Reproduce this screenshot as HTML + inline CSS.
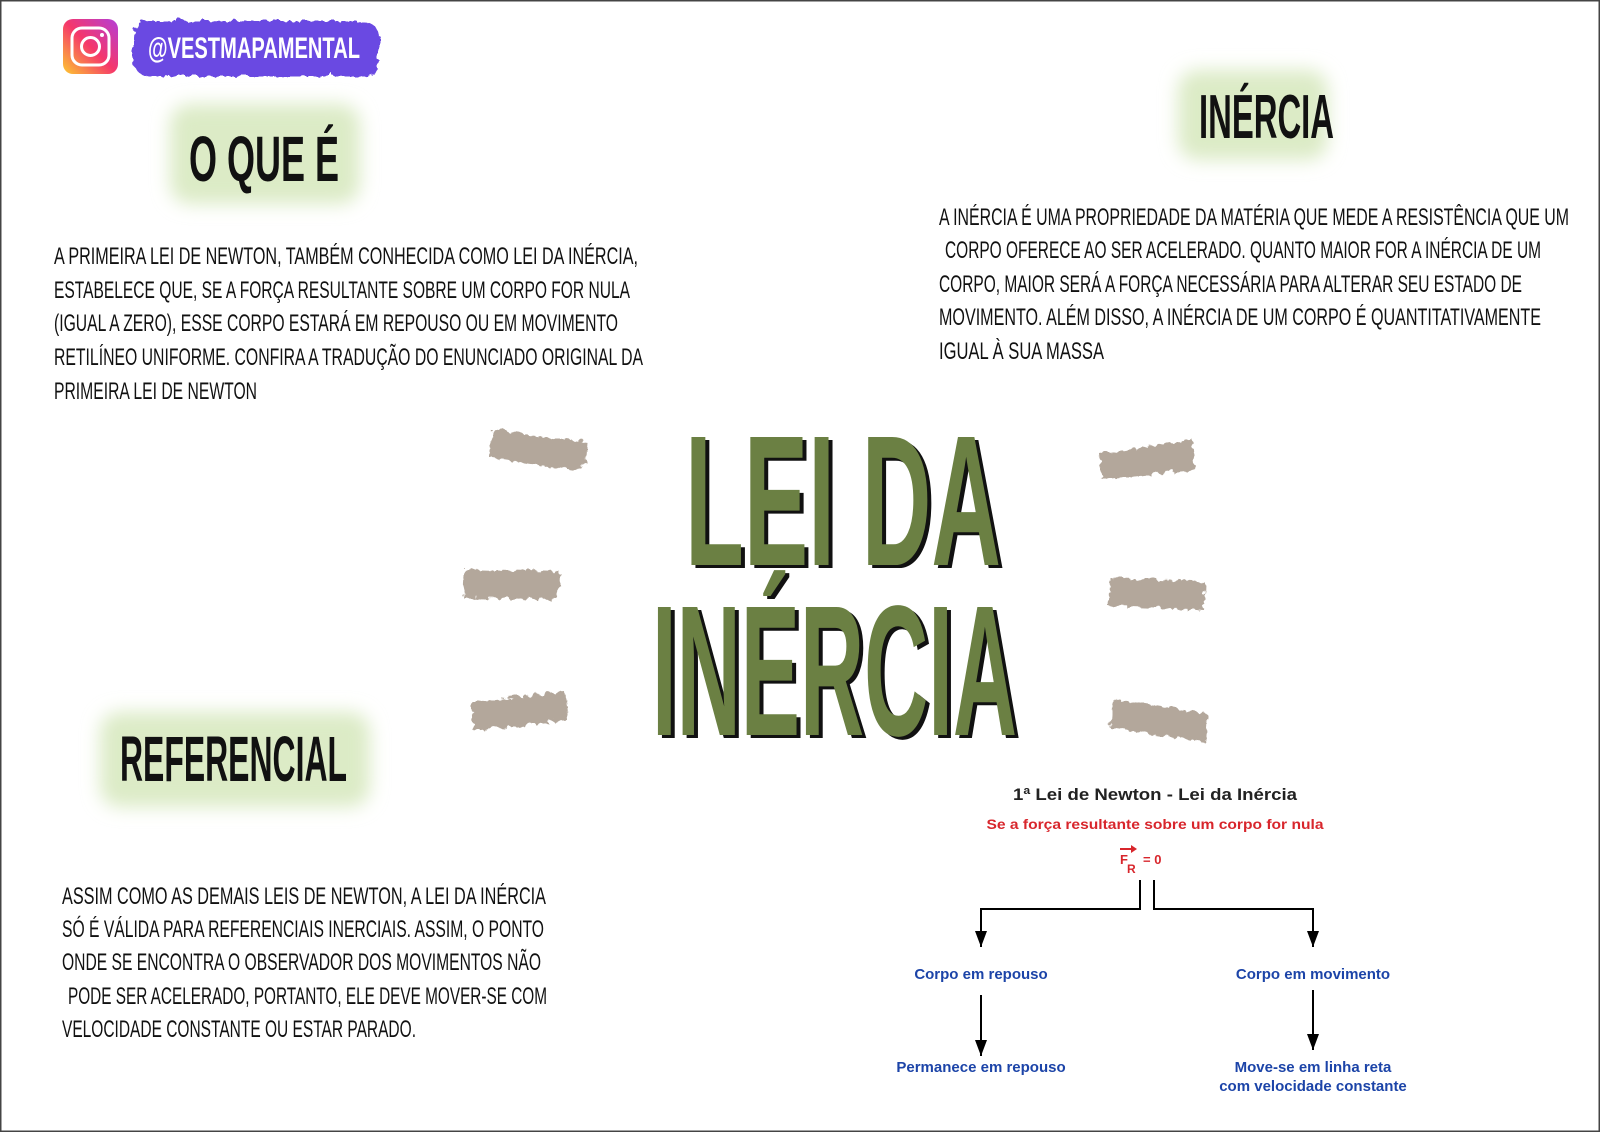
<!DOCTYPE html>
<html><head><meta charset="utf-8"><style>
html,body{margin:0;padding:0;background:#fff}
svg{display:block}
.h{font-family:"Liberation Sans Narrow","Liberation Sans",sans-serif;font-weight:bold;fill:#111}
.b{font-family:"Liberation Sans Narrow","Liberation Sans",sans-serif;font-size:24px;fill:#111}
.d{font-family:"Liberation Sans",sans-serif;font-weight:bold}
</style></head><body>
<svg width="1600" height="1132" viewBox="0 0 1600 1132" xmlns="http://www.w3.org/2000/svg">
<defs>
<filter id="blur" x="-30%" y="-30%" width="160%" height="160%"><feGaussianBlur stdDeviation="9"/></filter>
<filter id="rough" x="-10%" y="-30%" width="120%" height="160%"><feTurbulence baseFrequency="0.08" numOctaves="2" seed="3"/><feDisplacementMap in="SourceGraphic" scale="8"/></filter>
<linearGradient id="ig" x1="0" y1="1" x2="1" y2="0"><stop offset="0" stop-color="#fdc830"/><stop offset="0.5" stop-color="#f5376b"/><stop offset="1" stop-color="#b43ed8"/></linearGradient>
<marker id="ar" markerWidth="16" markerHeight="12" refX="16" refY="6" orient="auto" markerUnits="userSpaceOnUse"><path d="M0,0 L16,6 L0,12 Z" fill="#000"/></marker>
</defs>
<rect x="0.5" y="0.5" width="1599" height="1131" fill="#fff" stroke="#444" stroke-width="2"/>

<rect x="63" y="19" width="55" height="55" rx="10" fill="url(#ig)"/>
<rect x="72" y="28" width="37" height="37" rx="10" fill="none" stroke="#fff" stroke-width="3"/>
<circle cx="90.5" cy="46.5" r="9" fill="none" stroke="#fff" stroke-width="3"/>
<circle cx="102" cy="35" r="2" fill="#fff"/>
<rect x="131" y="19" width="246" height="55" rx="16" fill="#6a48e2" filter="url(#rough)"/>
<text class="h" x="148" y="58" font-size="30" style="fill:#fff" textLength="212" lengthAdjust="spacingAndGlyphs">@VESTMAPAMENTAL</text>

<rect x="170" y="104" width="190" height="100" rx="20" fill="#dcebc6" filter="url(#blur)"/>
<rect x="1178" y="70" width="150" height="90" rx="20" fill="#dcebc6" filter="url(#blur)"/>
<rect x="100" y="712" width="270" height="95" rx="20" fill="#dcebc6" filter="url(#blur)"/>
<text class="h" x="189" y="181" font-size="64" textLength="150" lengthAdjust="spacingAndGlyphs">O QUE É</text>
<text class="h" x="1199" y="138" font-size="62" textLength="135" lengthAdjust="spacingAndGlyphs">INÉRCIA</text>
<text class="h" x="120" y="781" font-size="64" textLength="227" lengthAdjust="spacingAndGlyphs">REFERENCIAL</text>

<g class="b">
<text x="54" y="264" textLength="584" lengthAdjust="spacingAndGlyphs">A PRIMEIRA LEI DE NEWTON, TAMBÉM CONHECIDA COMO LEI DA INÉRCIA,</text>
<text x="54" y="298" textLength="576" lengthAdjust="spacingAndGlyphs">ESTABELECE QUE, SE A FORÇA RESULTANTE SOBRE UM CORPO FOR NULA</text>
<text x="54" y="331" textLength="564" lengthAdjust="spacingAndGlyphs">(IGUAL A ZERO), ESSE CORPO ESTARÁ EM REPOUSO OU EM MOVIMENTO</text>
<text x="54" y="365" textLength="589" lengthAdjust="spacingAndGlyphs">RETILÍNEO UNIFORME. CONFIRA A TRADUÇÃO DO ENUNCIADO ORIGINAL DA</text>
<text x="54" y="399" textLength="203" lengthAdjust="spacingAndGlyphs">PRIMEIRA LEI DE NEWTON</text>

<text x="939" y="225" textLength="630" lengthAdjust="spacingAndGlyphs">A INÉRCIA É UMA PROPRIEDADE DA MATÉRIA QUE MEDE A RESISTÊNCIA QUE UM</text>
<text x="945" y="258" textLength="596" lengthAdjust="spacingAndGlyphs">CORPO OFERECE AO SER ACELERADO. QUANTO MAIOR FOR A INÉRCIA DE UM</text>
<text x="939" y="292" textLength="583" lengthAdjust="spacingAndGlyphs">CORPO, MAIOR SERÁ A FORÇA NECESSÁRIA PARA ALTERAR SEU ESTADO DE</text>
<text x="939" y="325" textLength="602" lengthAdjust="spacingAndGlyphs">MOVIMENTO. ALÉM DISSO, A INÉRCIA DE UM CORPO É QUANTITATIVAMENTE</text>
<text x="939" y="359" textLength="165" lengthAdjust="spacingAndGlyphs">IGUAL À SUA MASSA</text>

<text x="62" y="904" textLength="484" lengthAdjust="spacingAndGlyphs">ASSIM COMO AS DEMAIS LEIS DE NEWTON, A LEI DA INÉRCIA</text>
<text x="62" y="937" textLength="482" lengthAdjust="spacingAndGlyphs">SÓ É VÁLIDA PARA REFERENCIAIS INERCIAIS. ASSIM, O PONTO</text>
<text x="62" y="970" textLength="479" lengthAdjust="spacingAndGlyphs">ONDE SE ENCONTRA O OBSERVADOR DOS MOVIMENTOS NÃO</text>
<text x="68" y="1004" textLength="479" lengthAdjust="spacingAndGlyphs">PODE SER ACELERADO, PORTANTO, ELE DEVE MOVER-SE COM</text>
<text x="62" y="1037" textLength="354" lengthAdjust="spacingAndGlyphs">VELOCIDADE CONSTANTE OU ESTAR PARADO.</text>
</g>

<g fill="#b3a79b" filter="url(#rough)">
<path d="M490,428 L585,440 L583,470 L488,456 Z"/>
<path d="M463,567 L558,570 L557,598 L461,596 Z"/>
<path d="M470,700 L563,690 L565,718 L472,730 Z"/>
<path d="M1098,452 L1190,437 L1193,468 L1100,478 Z"/>
<path d="M1108,576 L1203,580 L1202,608 L1106,604 Z"/>
<path d="M1110,697 L1205,712 L1203,740 L1108,726 Z"/>
</g>

<g font-family="'Liberation Sans Narrow','Liberation Sans',sans-serif" font-weight="bold">
<text x="689" y="568" font-size="186" fill="#111" textLength="316" lengthAdjust="spacingAndGlyphs">LEI DA</text>
<text x="685" y="565" font-size="186" fill="#6b8043" textLength="316" lengthAdjust="spacingAndGlyphs">LEI DA</text>
<text x="656" y="738" font-size="186" fill="#111" textLength="365" lengthAdjust="spacingAndGlyphs">INÉRCIA</text>
<text x="652" y="735" font-size="186" fill="#6b8043" textLength="365" lengthAdjust="spacingAndGlyphs">INÉRCIA</text>
</g>

<text class="d" x="1155" y="800" font-size="17" fill="#222" text-anchor="middle" textLength="284" lengthAdjust="spacingAndGlyphs">1ª Lei de Newton - Lei da Inércia</text>
<text class="d" x="1155" y="829" font-size="14" fill="#d8262c" text-anchor="middle" textLength="337" lengthAdjust="spacingAndGlyphs">Se a força resultante sobre um corpo for nula</text>
<g class="d" fill="#d8262c" font-size="13">
<path d="M1120,849 L1133,849" stroke="#d8262c" stroke-width="2"/><path d="M1131,845 L1137,849 L1131,853Z"/>
<text x="1120" y="864">F</text><text x="1127" y="873" font-size="12">R</text>
<text x="1143" y="864">= 0</text>
</g>
<g stroke="#000" stroke-width="2" fill="none">
<path d="M1140,880 L1140,909 L981,909 L981,947" marker-end="url(#ar)"/>
<path d="M1154,880 L1154,909 L1313,909 L1313,947" marker-end="url(#ar)"/>
<path d="M981,995 L981,1056" marker-end="url(#ar)"/>
<path d="M1313,990 L1313,1050" marker-end="url(#ar)"/>
</g>
<g class="d" fill="#1c44a8" font-size="15" text-anchor="middle">
<text x="981" y="979">Corpo em repouso</text>
<text x="1313" y="979">Corpo em movimento</text>
<text x="981" y="1072">Permanece em repouso</text>
<text x="1313" y="1072">Move-se em linha reta</text>
<text x="1313" y="1091">com velocidade constante</text>
</g>
</svg>
</body></html>
